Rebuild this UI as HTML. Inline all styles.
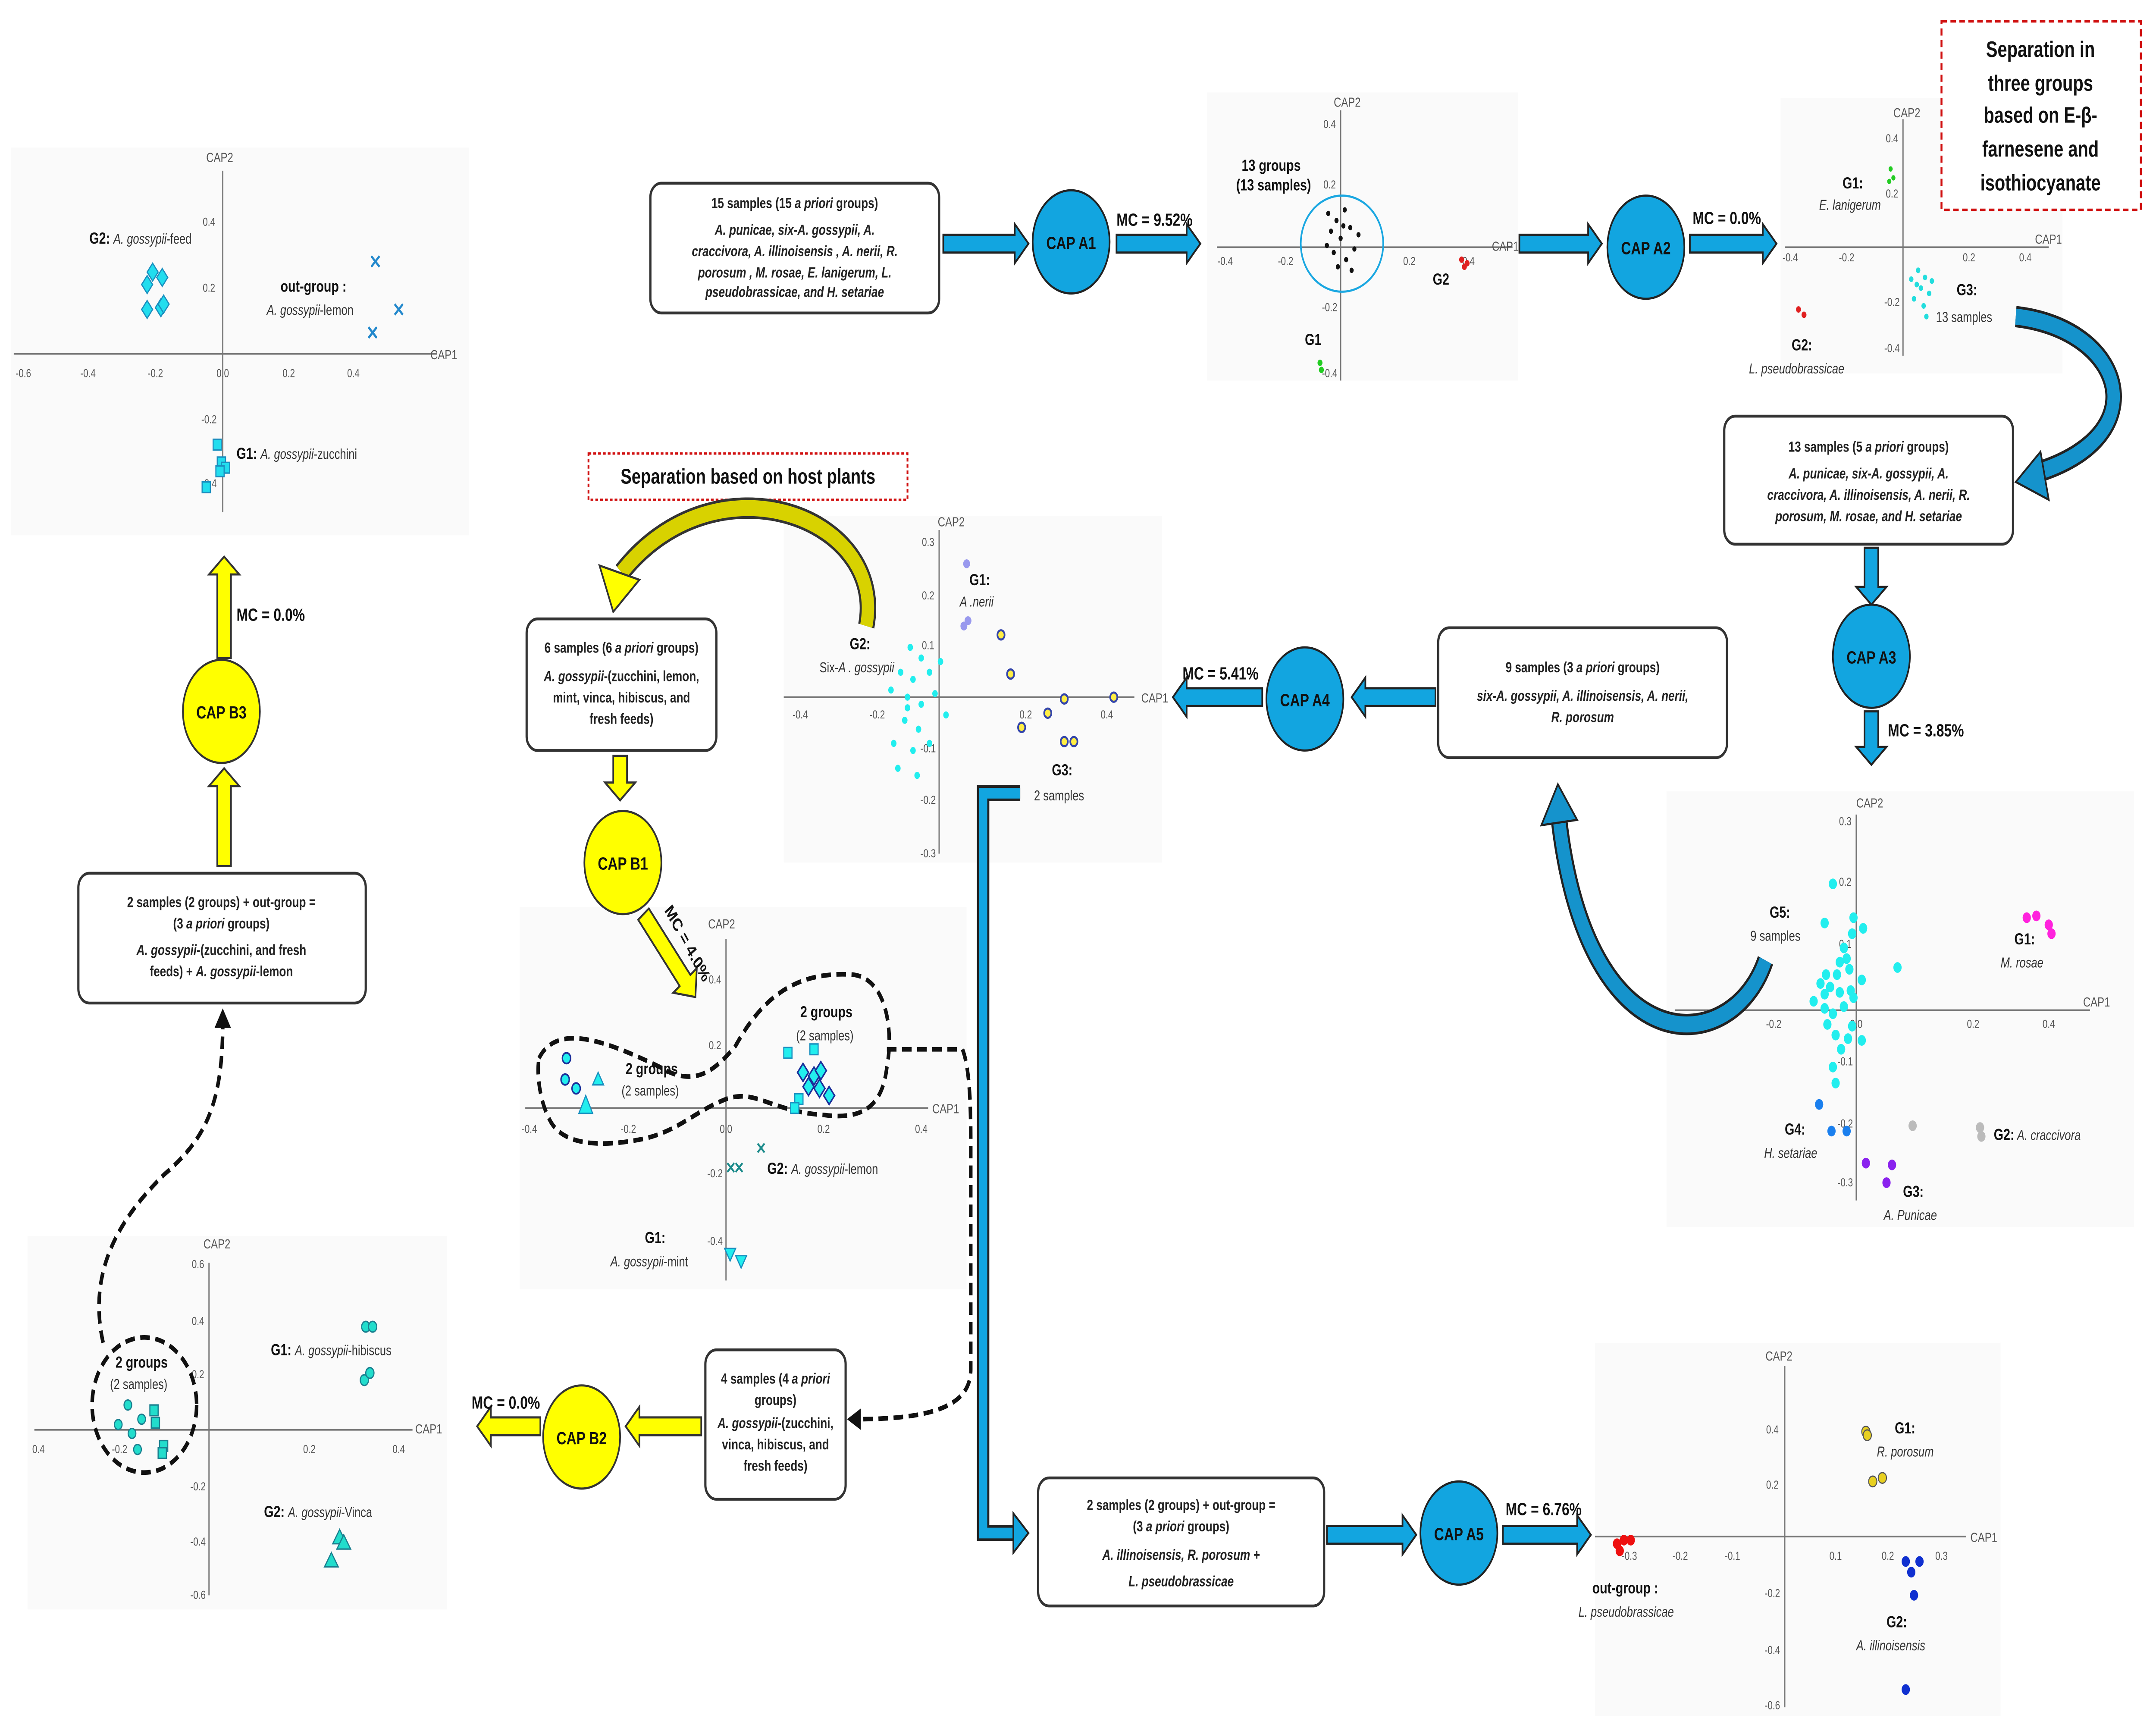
<!DOCTYPE html>
<html><head><meta charset="utf-8"><style>
html,body{margin:0;padding:0;background:#fff;width:100%;height:100%;overflow:hidden;}
svg{display:block;position:fixed;left:0;top:0;width:100vw;height:100vh;}
text{font-family:"Liberation Sans",sans-serif;}
.bx{fill:#fff;stroke:#333;stroke-width:1.6;}
.bt{font-size:8.2px;font-weight:bold;font-style:italic;fill:#222;text-anchor:middle;}
.btn{font-size:8.2px;font-weight:bold;fill:#222;text-anchor:middle;}
.ba{fill:#12a5e0;stroke:#222;stroke-width:1.2;}
.ya{fill:#ffff00;stroke:#333;stroke-width:1.2;}
.cb{fill:#12a5e0;stroke:#222;stroke-width:1.2;}
.cy{fill:#ffff00;stroke:#333;stroke-width:1.2;}
.cl{font-size:10px;font-weight:bold;fill:#111;text-anchor:middle;}
.mc{font-size:10px;font-weight:bold;fill:#111;}
.ax{stroke:#777;stroke-width:0.9;fill:none;}
.tk{font-size:6.5px;fill:#555;text-anchor:middle;}
.al{font-size:7.5px;fill:#555;}
.gl{font-size:9px;font-weight:bold;fill:#111;}
.gi{font-size:8px;font-style:italic;fill:#333;}
.gn{font-size:8px;fill:#333;}
.dash{fill:none;stroke:#111;stroke-width:2.6;stroke-dasharray:7,4;}
</style></head><body>
<svg viewBox="0 0 1568 975" preserveAspectRatio="none" xmlns="http://www.w3.org/2000/svg">
<rect width="1568" height="975" fill="#fff"/>
<rect x="8" y="83" width="333" height="218" fill="#fafafa"/>
<rect x="878" y="52" width="226" height="162" fill="#fafafa"/>
<rect x="1295" y="55" width="205" height="155" fill="#fafafa"/>
<rect x="570" y="290" width="275" height="195" fill="#fafafa"/>
<rect x="378" y="510" width="325" height="215" fill="#fafafa"/>
<rect x="1212" y="445" width="340" height="245" fill="#fafafa"/>
<rect x="20" y="695" width="305" height="210" fill="#fafafa"/>
<rect x="1160" y="755" width="295" height="210" fill="#fafafa"/>

<rect class="bx" x="473" y="103" width="210" height="73" rx="8"/>
<text class="btn" x="578" y="117">15 samples (15 <tspan font-style="italic">a priori</tspan> groups)</text>
<text class="bt" x="578" y="132">A. punicae, six-A. gossypii, A.</text>
<text class="bt" x="578" y="144">craccivora, A. illinoisensis , A. nerii, R.</text>
<text class="bt" x="578" y="156">porosum , M. rosae, E. lanigerum, L.</text>
<text class="bt" x="578" y="167">pseudobrassicae, and H. setariae</text>

<polygon class="ba" points="686,132 738,132 738,126 748,137 738,148 738,142 686,142"/>
<ellipse class="cb" cx="779" cy="136" rx="28" ry="29"/>
<text class="cl" x="779" y="140">CAP A1</text>
<polygon class="ba" points="812,132 863,132 863,126 873,137 863,148 863,142 812,142"/>
<text class="mc" x="812" y="127">MC = 9.52%</text>

<line class="ax" x1="885" y1="139" x2="1100" y2="139"/>
<line class="ax" x1="975" y1="62" x2="975" y2="214"/>
<text class="al" x="970" y="60">CAP2</text>
<text class="al" x="1085" y="141">CAP1</text>
<text class="tk" x="891" y="149">-0.4</text><text class="tk" x="935" y="149">-0.2</text><text class="tk" x="1025" y="149">0.2</text><text class="tk" x="1068" y="149">0.4</text>
<text class="tk" x="967" y="72">0.4</text><text class="tk" x="967" y="106">0.2</text><text class="tk" x="967" y="175">-0.2</text><text class="tk" x="967" y="212">-0.4</text>
<ellipse cx="976" cy="137" rx="30" ry="27" fill="none" stroke="#1aa7e1" stroke-width="1.2"/>
<g fill="#111">
<circle cx="966" cy="120" r="1.5"/><circle cx="972" cy="124" r="1.5"/><circle cx="978" cy="118" r="1.5"/><circle cx="968" cy="130" r="1.5"/><circle cx="975" cy="134" r="1.5"/><circle cx="982" cy="128" r="1.5"/><circle cx="970" cy="142" r="1.5"/><circle cx="979" cy="146" r="1.5"/><circle cx="985" cy="140" r="1.5"/><circle cx="965" cy="138" r="1.5"/><circle cx="973" cy="150" r="1.5"/><circle cx="983" cy="152" r="1.5"/><circle cx="988" cy="132" r="1.5"/><circle cx="977" cy="127" r="1.5"/>
</g>
<text class="gl" x="903" y="96">13 groups</text><text class="gl" x="899" y="107">(13 samples)</text>
<text class="gl" x="1042" y="160">G2</text>
<g fill="#e02020"><circle cx="1063" cy="146" r="1.8"/><circle cx="1067" cy="148" r="1.8"/><circle cx="1065" cy="150" r="1.8"/></g>
<text class="gl" x="949" y="194">G1</text>
<g fill="#22cc22"><circle cx="960" cy="204" r="1.8"/><circle cx="961" cy="208" r="1.8"/></g>

<polygon class="ba" points="1105,132 1155,132 1155,126 1165,137 1155,148 1155,142 1105,142"/>
<ellipse class="cb" cx="1197" cy="139" rx="28" ry="29"/>
<text class="cl" x="1197" y="143">CAP A2</text>
<polygon class="ba" points="1229,132 1282,132 1282,126 1292,137 1282,148 1282,142 1229,142"/>
<text class="mc" x="1231" y="126">MC = 0.0%</text>

<line class="ax" x1="1298" y1="139" x2="1490" y2="139"/>
<line class="ax" x1="1384" y1="67" x2="1384" y2="200"/>
<text class="al" x="1377" y="66">CAP2</text><text class="al" x="1480" y="137">CAP1</text>
<text class="tk" x="1302" y="147">-0.4</text><text class="tk" x="1343" y="147">-0.2</text><text class="tk" x="1432" y="147">0.2</text><text class="tk" x="1473" y="147">0.4</text>
<text class="tk" x="1376" y="80">0.4</text><text class="tk" x="1376" y="111">0.2</text><text class="tk" x="1376" y="172">-0.2</text><text class="tk" x="1376" y="198">-0.4</text>
<text class="gl" x="1340" y="106">G1:</text><text class="gi" x="1323" y="118">E. lanigerum</text>
<g fill="#22cc22"><circle cx="1375" cy="95" r="1.5"/><circle cx="1377" cy="100" r="1.5"/><circle cx="1374" cy="102" r="1.5"/></g>
<g fill="#e02020"><circle cx="1308" cy="174" r="1.8"/><circle cx="1312" cy="177" r="1.8"/></g>
<text class="gl" x="1303" y="197">G2:</text><text class="gi" x="1272" y="210">L. pseudobrassicae</text>
<g fill="#22dddd"><circle cx="1395" cy="152" r="1.6"/><circle cx="1400" cy="156" r="1.6"/><circle cx="1397" cy="162" r="1.6"/><circle cx="1403" cy="165" r="1.6"/><circle cx="1392" cy="168" r="1.6"/><circle cx="1399" cy="172" r="1.6"/><circle cx="1405" cy="158" r="1.6"/><circle cx="1394" cy="160" r="1.6"/><circle cx="1401" cy="178" r="1.6"/><circle cx="1390" cy="157" r="1.6"/></g>
<text class="gl" x="1423" y="166">G3:</text><text class="gn" x="1408" y="181" font-size="9.5">13 samples</text>

<rect x="1412" y="12" width="145" height="106" fill="#fff" stroke="#d01010" stroke-width="1.4" stroke-dasharray="4,2.5"/>
<g font-size="12.5" font-weight="bold" fill="#111" text-anchor="middle">
<text x="1484" y="32">Separation in</text><text x="1484" y="51">three groups</text><text x="1484" y="69">based on E-β-</text><text x="1484" y="88">farnesene and</text><text x="1484" y="107">isothiocyanate</text></g>

<path d="M1466,178 C1545,185 1570,245 1480,266" fill="none" stroke="#222" stroke-width="12"/>
<path d="M1466,178 C1545,185 1570,245 1480,266" fill="none" stroke="#1593cc" stroke-width="9"/>
<polygon points="1484,254 1466,271 1490,281" fill="#1593cc" stroke="#222" stroke-width="1.2"/>

<rect class="bx" x="1254" y="234" width="210" height="72" rx="8"/>
<text class="btn" x="1359" y="254">13 samples (5 <tspan font-style="italic">a priori</tspan> groups)</text>
<text class="bt" x="1359" y="269">A. punicae, six-A. gossypii, A.</text>
<text class="bt" x="1359" y="281">craccivora, A. illinoisensis, A. nerii, R.</text>
<text class="bt" x="1359" y="293">porosum, M. rosae, and H. setariae</text>

<polygon class="ba" points="1356,308 1356,330 1350,330 1361,340 1372,330 1366,330 1366,308"/>
<ellipse class="cb" cx="1361" cy="369" rx="28" ry="29"/>
<text class="cl" x="1361" y="373">CAP A3</text>
<polygon class="ba" points="1356,400 1356,420 1350,420 1361,430 1372,420 1366,420 1366,400"/>
<text class="mc" x="1373" y="414">MC = 3.85%</text>

<line class="ax" x1="1218" y1="568" x2="1520" y2="568"/>
<line class="ax" x1="1350" y1="458" x2="1350" y2="675"/>
<text class="al" x="1350" y="454">CAP2</text><text class="al" x="1515" y="566">CAP1</text>
<text class="tk" x="1290" y="578">-0.2</text><text class="tk" x="1350" y="578">0.0</text><text class="tk" x="1435" y="578">0.2</text><text class="tk" x="1490" y="578">0.4</text>
<text class="tk" x="1342" y="464">0.3</text><text class="tk" x="1342" y="498">0.2</text><text class="tk" x="1342" y="533">0.1</text><text class="tk" x="1342" y="599">-0.1</text><text class="tk" x="1342" y="634">-0.2</text><text class="tk" x="1342" y="667">-0.3</text>
<g fill="#22eeee"><circle cx="1333" cy="497" r="3"/><circle cx="1327" cy="519" r="3"/><circle cx="1348" cy="516" r="3"/><circle cx="1355" cy="522" r="3"/><circle cx="1347" cy="525" r="3"/><circle cx="1341" cy="533" r="3"/><circle cx="1338" cy="541" r="3"/><circle cx="1345" cy="545" r="3"/><circle cx="1336" cy="548" r="3"/><circle cx="1328" cy="548" r="3"/><circle cx="1324" cy="553" r="3"/><circle cx="1331" cy="555" r="3"/><circle cx="1327" cy="559" r="3"/><circle cx="1338" cy="558" r="3"/><circle cx="1346" cy="557" r="3"/><circle cx="1319" cy="563" r="3"/><circle cx="1327" cy="567" r="3"/><circle cx="1333" cy="570" r="3"/><circle cx="1341" cy="566" r="3"/><circle cx="1348" cy="561" r="3"/><circle cx="1329" cy="576" r="3"/><circle cx="1335" cy="582" r="3"/><circle cx="1344" cy="584" r="3"/><circle cx="1339" cy="590" r="3"/><circle cx="1347" cy="577" r="3"/><circle cx="1333" cy="600" r="3"/><circle cx="1335" cy="609" r="3"/><circle cx="1354" cy="585" r="3"/><circle cx="1354" cy="551" r="3"/><circle cx="1380" cy="544" r="3"/><circle cx="1343" cy="539" r="3"/></g>
<g fill="#ff22dd"><circle cx="1474" cy="516" r="3"/><circle cx="1481" cy="515" r="3"/><circle cx="1490" cy="520" r="3"/><circle cx="1492" cy="525" r="3"/></g>
<g fill="#bbbbbb"><circle cx="1391" cy="633" r="3"/><circle cx="1440" cy="634" r="3"/><circle cx="1441" cy="639" r="3"/></g>
<g fill="#8a22ee"><circle cx="1357" cy="654" r="3"/><circle cx="1376" cy="655" r="3"/><circle cx="1372" cy="665" r="3"/></g>
<g fill="#1a7fee"><circle cx="1323" cy="621" r="3"/><circle cx="1332" cy="636" r="3"/><circle cx="1343" cy="636" r="3"/></g>
<text class="gl" x="1287" y="516">G5:</text><text class="gn" x="1273" y="529" font-size="9.5">9 samples</text>
<text class="gl" x="1465" y="531">G1:</text><text class="gi" x="1455" y="544">M. rosae</text>
<text class="gl" x="1450" y="641">G2:</text><text class="gi" x="1467" y="641">A. craccivora</text>
<text class="gl" x="1384" y="673">G3:</text><text class="gi" x="1370" y="686">A. Punicae</text>
<text class="gl" x="1298" y="638">G4:</text><text class="gi" x="1283" y="651">H. setariae</text>

<path d="M1284,540 C1260,595 1155,600 1134,462" fill="none" stroke="#222" stroke-width="12"/>
<path d="M1284,540 C1260,595 1155,600 1134,462" fill="none" stroke="#1593cc" stroke-width="9"/>
<polygon points="1121,464 1133,441 1147,461" fill="#1593cc" stroke="#222" stroke-width="1.2"/>

<rect class="bx" x="1046" y="353" width="210" height="73" rx="8"/>
<text class="btn" x="1151" y="378">9 samples (3 <tspan font-style="italic">a priori</tspan> groups)</text>
<text class="bt" x="1151" y="394">six-A. gossypii, A. illinoisensis, A. nerii,</text>
<text class="bt" x="1151" y="406">R. porosum</text>

<polygon class="ba" points="1044,387 993,387 993,381 983,392 993,403 993,397 1044,397"/>
<ellipse class="cb" cx="949" cy="393" rx="28" ry="29"/>
<text class="cl" x="949" y="397">CAP A4</text>
<polygon class="ba" points="918,387 863,387 863,381 853,392 863,403 863,397 918,397"/>
<text class="mc" x="860" y="382">MC = 5.41%</text>

<line class="ax" x1="570" y1="392" x2="825" y2="392"/>
<line class="ax" x1="683" y1="298" x2="683" y2="480"/>
<text class="al" x="682" y="296">CAP2</text><text class="al" x="830" y="395">CAP1</text>
<text class="tk" x="582" y="404">-0.4</text><text class="tk" x="638" y="404">-0.2</text><text class="tk" x="746" y="404">0.2</text><text class="tk" x="805" y="404">0.4</text>
<text class="tk" x="675" y="307">0.3</text><text class="tk" x="675" y="337">0.2</text><text class="tk" x="675" y="365">0.1</text><text class="tk" x="675" y="423">-0.1</text><text class="tk" x="675" y="452">-0.2</text><text class="tk" x="675" y="482">-0.3</text>
<g fill="#9999ee"><circle cx="703" cy="317" r="2.5"/><circle cx="701" cy="352" r="2.5"/><circle cx="704" cy="349" r="2.5"/></g>
<g fill="#22eeee"><circle cx="662" cy="364" r="2"/><circle cx="670" cy="370" r="2"/><circle cx="655" cy="378" r="2"/><circle cx="664" cy="382" r="2"/><circle cx="676" cy="378" r="2"/><circle cx="660" cy="392" r="2"/><circle cx="670" cy="396" r="2"/><circle cx="680" cy="390" r="2"/><circle cx="658" cy="405" r="2"/><circle cx="668" cy="410" r="2"/><circle cx="688" cy="402" r="2"/><circle cx="650" cy="418" r="2"/><circle cx="664" cy="422" r="2"/><circle cx="676" cy="418" r="2"/><circle cx="653" cy="432" r="2"/><circle cx="667" cy="436" r="2"/><circle cx="660" cy="398" r="2"/><circle cx="648" cy="388" r="2"/><circle cx="684" cy="372" r="2"/></g>
<g fill="#ffee44" stroke="#3344aa" stroke-width="1.2"><circle cx="728" cy="357" r="2.6"/><circle cx="735" cy="379" r="2.6"/><circle cx="774" cy="393" r="2.6"/><circle cx="810" cy="392" r="2.6"/><circle cx="762" cy="401" r="2.6"/><circle cx="743" cy="409" r="2.6"/><circle cx="774" cy="417" r="2.6"/><circle cx="781" cy="417" r="2.6"/></g>
<text class="gl" x="705" y="329">G1:</text><text class="gi" x="698" y="341">A .nerii</text>
<text class="gl" x="618" y="365">G2:</text><text class="gn" x="596" y="378">Six-<tspan font-style="italic">A . gossypii</tspan></text>
<text class="gl" x="765" y="436">G3:</text><text class="gn" x="752" y="450" font-size="9.5">2 samples</text>

<rect x="428" y="255" width="232" height="26" fill="#fff" stroke="#d01010" stroke-width="1.3" stroke-dasharray="2,1.5"/>
<text x="544" y="272" font-size="12" font-weight="bold" fill="#111" text-anchor="middle">Separation based on host plants</text>

<path d="M630,352 C645,290 520,255 452,322" fill="none" stroke="#333" stroke-width="12"/>
<path d="M630,352 C645,290 520,255 452,322" fill="none" stroke="#d8d200" stroke-width="9"/>
<polygon points="436,318 446,344 465,326" fill="#ffff00" stroke="#333" stroke-width="1.2"/>

<rect class="bx" x="383" y="348" width="138" height="74" rx="8"/>
<text class="btn" x="452" y="367">6 samples (6 <tspan font-style="italic">a priori</tspan> groups)</text>
<text class="btn" x="452" y="383"><tspan font-style="italic">A. gossypii</tspan>-(zucchini, lemon,</text>
<text class="btn" x="452" y="395">mint, vinca, hibiscus, and</text>
<text class="btn" x="452" y="407">fresh feeds)</text>

<polygon class="ya" points="446,425 446,440 440,440 451,450 462,440 456,440 456,425"/>
<ellipse class="cy" cx="453" cy="485" rx="28" ry="29"/>
<text class="cl" x="453" y="489">CAP B1</text>
<g transform="translate(468,514) rotate(51)"><polygon class="ya" points="0,-5 48,-5 48,-11 60,0 48,11 48,5 0,5"/></g>
<text class="mc" x="0" y="0" transform="translate(483,512) rotate(55)">MC = 4.0%</text>

<line class="ax" x1="382" y1="623" x2="675" y2="623"/>
<line class="ax" x1="528" y1="528" x2="528" y2="720"/>
<text class="al" x="515" y="522">CAP2</text><text class="al" x="678" y="626">CAP1</text>
<text class="tk" x="385" y="637">-0.4</text><text class="tk" x="457" y="637">-0.2</text><text class="tk" x="528" y="637">0.0</text><text class="tk" x="599" y="637">0.2</text><text class="tk" x="670" y="637">0.4</text>
<text class="tk" x="520" y="553">0.4</text><text class="tk" x="520" y="590">0.2</text><text class="tk" x="520" y="662">-0.2</text><text class="tk" x="520" y="700">-0.4</text>
<path class="dash" d="M392,595 C405,575 440,585 480,600 C505,612 520,602 535,588 C555,560 580,546 620,548 C645,550 650,580 645,600 C642,620 630,630 600,627 C560,625 550,612 528,618 C505,625 495,635 470,640 C440,645 410,645 400,630 C393,620 390,605 392,595 Z"/>
<g fill="#22eeee" stroke="#1a2f9a" stroke-width="1"><circle cx="412" cy="595" r="3"/><circle cx="411" cy="607" r="3"/><circle cx="419" cy="612" r="3"/></g>
<g fill="#22eeee" stroke="#1a8fbf" stroke-width="0.8"><polygon points="426,616 431,626 421,626"/><polygon points="435,603 439,610 431,610"/></g>
<g fill="#22eeee" stroke="#1a8fbf" stroke-width="0.8"><rect x="570" y="589" width="6" height="6"/><rect x="589" y="587" width="6" height="6"/><rect x="578" y="615" width="6" height="6"/><rect x="575" y="620" width="6" height="6"/></g>
<g fill="#22eeee" stroke="#1a2f9a" stroke-width="1"><polygon points="584,598 588,603 584,608 580,603"/><polygon points="592,600 596,605 592,610 588,605"/><polygon points="597,597 601,602 597,607 593,602"/><polygon points="588,606 592,611 588,616 584,611"/><polygon points="596,607 600,612 596,617 592,612"/><polygon points="603,611 607,616 603,621 599,616"/></g>
<text class="gl" x="455" y="604">2 groups</text><text class="gn" x="452" y="616">(2 samples)</text>
<text class="gl" x="582" y="572">2 groups</text><text class="gn" x="579" y="585">(2 samples)</text>
<g stroke="#1a8a8a" stroke-width="1.2"><path d="M529,654 l5,5 m0,-5 l-5,5"/><path d="M535,654 l5,5 m0,-5 l-5,5"/><path d="M551,643 l5,5 m0,-5 l-5,5"/></g>
<text class="gl" x="558" y="660">G2: <tspan class="gi" font-weight="normal">A. gossypii</tspan><tspan font-weight="normal" font-size="8" fill="#333">-lemon</tspan></text>
<g fill="#22eeee" stroke="#1a8fbf" stroke-width="0.8"><polygon points="527,702 535,702 531,709"/><polygon points="535,706 543,706 539,713"/></g>
<text class="gl" x="469" y="699">G1:</text><text class="gn" x="444" y="712"><tspan font-style="italic">A. gossypii</tspan>-mint</text>

<path class="dash" d="M645,590 L700,590 C705,600 706,620 706,640 L706,770 C706,790 680,798 622,798"/>
<polygon points="626,792 616,798 626,804" fill="#111"/>

<path d="M742,446 L715,446 L715,862 L738,862" fill="none" stroke="#222" stroke-width="9"/>
<path d="M742,446 L715,446 L715,862 L738,862" fill="none" stroke="#12a5e0" stroke-width="6"/>
<polygon points="737,851 748,862 737,873" fill="#12a5e0" stroke="#222" stroke-width="1.2"/>

<rect class="bx" x="513" y="759" width="102" height="84" rx="8"/>
<text class="btn" x="564" y="778">4 samples (4 <tspan font-style="italic">a priori</tspan></text>
<text class="btn" x="564" y="790">groups)</text>
<text class="btn" x="564" y="803"><tspan font-style="italic">A. gossypii</tspan>-(zucchini,</text>
<text class="btn" x="564" y="815">vinca, hibiscus, and</text>
<text class="btn" x="564" y="827">fresh feeds)</text>

<polygon class="ya" points="510,797 465,797 465,791 455,802 465,813 465,807 510,807"/>
<ellipse class="cy" cx="423" cy="808" rx="28" ry="29"/>
<text class="cl" x="423" y="812">CAP B2</text>
<polygon class="ya" points="393,797 357,797 357,791 347,802 357,813 357,807 393,807"/>
<text class="mc" x="343" y="792">MC = 0.0%</text>

<line class="ax" x1="25" y1="804" x2="300" y2="804"/>
<line class="ax" x1="152" y1="710" x2="152" y2="897"/>
<text class="al" x="148" y="702">CAP2</text><text class="al" x="302" y="806">CAP1</text>
<text class="tk" x="28" y="817">0.4</text><text class="tk" x="87" y="817">-0.2</text><text class="tk" x="225" y="817">0.2</text><text class="tk" x="290" y="817">0.4</text>
<text class="tk" x="144" y="713">0.6</text><text class="tk" x="144" y="745">0.4</text><text class="tk" x="144" y="775">0.2</text><text class="tk" x="144" y="838">-0.2</text><text class="tk" x="144" y="869">-0.4</text><text class="tk" x="144" y="899">-0.6</text>
<circle class="dash" cx="105" cy="790" r="38"/>
<text class="gl" x="84" y="769">2 groups</text><text class="gn" x="80" y="781">(2 samples)</text>
<g fill="#22ddcc" stroke="#1a7f8f" stroke-width="0.8"><circle cx="93" cy="790" r="2.8"/><circle cx="86" cy="801" r="2.8"/><circle cx="96" cy="806" r="2.8"/><circle cx="100" cy="815" r="2.8"/><circle cx="103" cy="798" r="2.8"/><rect x="109" y="790" width="6" height="6"/><rect x="110" y="797" width="6" height="6"/><rect x="116" y="810" width="6" height="6"/><rect x="115" y="814" width="6" height="6"/></g>
<g fill="#22ddcc" stroke="#1a7f8f" stroke-width="0.8"><circle cx="266" cy="746" r="3"/><circle cx="271" cy="746" r="3"/><circle cx="265" cy="776" r="3"/><circle cx="269" cy="772" r="3"/><polygon points="247,860 252,868 242,868"/><polygon points="250,863 255,871 245,871"/><polygon points="241,873 246,881 236,881"/></g>
<text class="gl" x="197" y="762">G1: <tspan class="gi" font-weight="normal">A. gossypii</tspan><tspan font-weight="normal" font-size="8" fill="#333">-hibiscus</tspan></text>
<text class="gl" x="192" y="853">G2: <tspan class="gi" font-weight="normal">A. gossypii</tspan><tspan font-weight="normal" font-size="8" fill="#333">-Vinca</tspan></text>

<path class="dash" d="M75,755 C65,720 80,690 120,660 C150,640 162,620 162,575"/>
<polygon points="156,578 162,567 168,578" fill="#111"/>

<rect class="bx" x="57" y="491" width="209" height="73" rx="8"/>
<text class="btn" x="161" y="510">2 samples (2 groups) + out-group =</text>
<text class="btn" x="161" y="522">(3 <tspan font-style="italic">a priori</tspan> groups)</text>
<text class="btn" x="161" y="537"><tspan font-style="italic">A. gossypii</tspan>-(zucchini, and fresh</text>
<text class="btn" x="161" y="549">feeds) + <tspan font-style="italic">A. gossypii</tspan>-lemon</text>

<polygon class="ya" points="158,487 158,442 152,442 163,432 174,442 168,442 168,487"/>
<ellipse class="cy" cx="161" cy="400" rx="28" ry="29"/>
<text class="cl" x="161" y="404">CAP B3</text>
<polygon class="ya" points="158,370 158,323 152,323 163,313 174,323 168,323 168,370"/>
<text class="mc" x="172" y="349">MC = 0.0%</text>

<line class="ax" x1="10" y1="199" x2="318" y2="199"/>
<line class="ax" x1="162" y1="96" x2="162" y2="288"/>
<text class="al" x="150" y="91">CAP2</text><text class="al" x="313" y="202">CAP1</text>
<text class="tk" x="17" y="212">-0.6</text><text class="tk" x="64" y="212">-0.4</text><text class="tk" x="113" y="212">-0.2</text><text class="tk" x="162" y="212">0.0</text><text class="tk" x="210" y="212">0.2</text><text class="tk" x="257" y="212">0.4</text>
<text class="tk" x="152" y="127">0.4</text><text class="tk" x="152" y="164">0.2</text><text class="tk" x="152" y="238">-0.2</text><text class="tk" x="152" y="274">-0.4</text>
<g fill="#22ddee" stroke="#1a8fbf" stroke-width="0.8"><polygon points="111,148 115,153 111,158 107,153"/><polygon points="118,151 122,156 118,161 114,156"/><polygon points="107,155 111,160 107,165 103,160"/><polygon points="107,169 111,174 107,179 103,174"/><polygon points="117,168 121,173 117,178 113,173"/><polygon points="119,166 123,171 119,176 115,171"/></g>
<g stroke="#2288cc" stroke-width="1.4"><path d="M270,144 l6,6 m0,-6 l-6,6"/><path d="M287,171 l6,6 m0,-6 l-6,6"/><path d="M268,184 l6,6 m0,-6 l-6,6"/></g>
<g fill="#22ddee" stroke="#1a8fbf" stroke-width="0.8"><rect x="155" y="247" width="6" height="6"/><rect x="158" y="257" width="6" height="6"/><rect x="161" y="260" width="6" height="6"/><rect x="157" y="262" width="6" height="6"/><rect x="147" y="271" width="6" height="6"/></g>
<text class="gl" x="65" y="137">G2: <tspan class="gi" font-weight="normal">A. gossypii</tspan><tspan font-weight="normal" font-size="8" fill="#333">-feed</tspan></text>
<text class="gl" x="204" y="164">out-group :</text><text class="gn" x="194" y="177"><tspan font-style="italic">A. gossypii</tspan>-lemon</text>
<text class="gl" x="172" y="258">G1: <tspan class="gi" font-weight="normal">A. gossypii</tspan><tspan font-weight="normal" font-size="8" fill="#333">-zucchini</tspan></text>

<rect class="bx" x="755" y="831" width="208" height="72" rx="8"/>
<text class="btn" x="859" y="849">2 samples (2 groups) + out-group =</text>
<text class="btn" x="859" y="861">(3 <tspan font-style="italic">a priori</tspan> groups)</text>
<text class="bt" x="859" y="877">A. illinoisensis, R. porosum +</text>
<text class="bt" x="859" y="892">L. pseudobrassicae</text>

<polygon class="ba" points="965,858 1020,858 1020,852 1030,863 1020,874 1020,868 965,868"/>
<ellipse class="cb" cx="1061" cy="862" rx="28" ry="29"/>
<text class="cl" x="1061" y="866">CAP A5</text>
<polygon class="ba" points="1093,858 1147,858 1147,852 1157,863 1147,874 1147,868 1093,868"/>
<text class="mc" x="1095" y="852">MC = 6.76%</text>

<line class="ax" x1="1160" y1="864" x2="1430" y2="864"/>
<line class="ax" x1="1298" y1="768" x2="1298" y2="960"/>
<text class="al" x="1284" y="765">CAP2</text><text class="al" x="1433" y="867">CAP1</text>
<text class="tk" x="1185" y="877">-0.3</text><text class="tk" x="1222" y="877">-0.2</text><text class="tk" x="1260" y="877">-0.1</text><text class="tk" x="1335" y="877">0.1</text><text class="tk" x="1373" y="877">0.2</text><text class="tk" x="1412" y="877">0.3</text>
<text class="tk" x="1289" y="806">0.4</text><text class="tk" x="1289" y="837">0.2</text><text class="tk" x="1289" y="898">-0.2</text><text class="tk" x="1289" y="930">-0.4</text><text class="tk" x="1289" y="961">-0.6</text>
<g fill="#e8d020" stroke="#555" stroke-width="0.7"><circle cx="1357" cy="805" r="3"/><circle cx="1358" cy="807" r="3"/><circle cx="1362" cy="833" r="3"/><circle cx="1369" cy="831" r="3"/></g>
<g fill="#1030d0"><circle cx="1386" cy="878" r="3"/><circle cx="1396" cy="878" r="3"/><circle cx="1390" cy="884" r="3"/><circle cx="1392" cy="897" r="3"/><circle cx="1386" cy="950" r="3"/></g>
<g fill="#ee1010"><circle cx="1176" cy="868" r="3"/><circle cx="1181" cy="866" r="3"/><circle cx="1186" cy="866" r="3"/><circle cx="1178" cy="872" r="3"/></g>
<text class="gl" x="1378" y="806">G1:</text><text class="gi" x="1365" y="819">R. porosum</text>
<text class="gl" x="1372" y="915">G2:</text><text class="gi" x="1350" y="928">A. illinoisensis</text>
<text class="gl" x="1158" y="896">out-group :</text><text class="gi" x="1148" y="909">L. pseudobrassicae</text>
</svg>
</body></html>
